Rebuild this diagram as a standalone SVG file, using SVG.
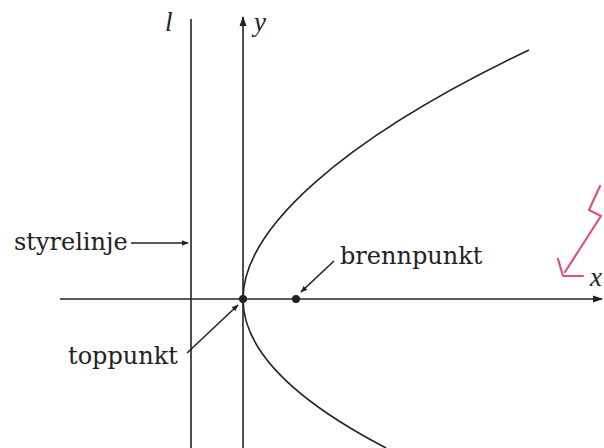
<svg xmlns="http://www.w3.org/2000/svg" width="604" height="448" viewBox="0 0 604 448">
<style>
.ln{stroke:#222;stroke-width:1.6;fill:none}
.lbl{font-family:"DejaVu Serif",serif;font-size:24px;fill:#222}
.var{font-family:"Liberation Serif",serif;font-style:italic;font-size:27px;fill:#222}
</style>
<defs>
<marker id="ah" viewBox="0 0 10 10" refX="9" refY="5" markerWidth="7" markerHeight="7" orient="auto" markerUnits="userSpaceOnUse">
<path d="M0,1 L10,5 L0,9 Z" fill="#222"/>
</marker>
<marker id="axh" viewBox="0 0 10 10" refX="9" refY="5" markerWidth="10" markerHeight="10" orient="auto" markerUnits="userSpaceOnUse">
<path d="M0,1.5 L10,5 L0,8.5 Z" fill="#222"/>
</marker>
</defs>
<rect width="604" height="448" fill="#fff"/>
<g id="axes">
<line class="ln" x1="60" y1="299" x2="602" y2="299" marker-end="url(#axh)"/>
<line class="ln" x1="243" y1="448" x2="243" y2="17" marker-end="url(#axh)"/>
<text class="var" x="254" y="31">y</text>
<text class="var" x="590" y="286">x</text>
</g>
<g id="directrix">
<line class="ln" x1="191" y1="19" x2="191" y2="448"/>
<text class="var" x="165" y="31">l</text>
</g>
<g id="parabola">
<path class="ln" d="M243,299 C243,230 340,140 529,50"/>
<path class="ln" d="M243,299 Q243,373.5 386,448"/>
</g>
<g id="vertex">
<circle cx="243" cy="299" r="4" fill="#222"/>
</g>
<g id="focus">
<circle cx="296" cy="299" r="4" fill="#222"/>
</g>
<g id="connectors">
<line class="ln" x1="131" y1="243" x2="188" y2="243" marker-end="url(#ah)" stroke-width="1.3"/>
<line class="ln" x1="334" y1="261" x2="301" y2="292" marker-end="url(#ah)" stroke-width="1.3"/>
<line class="ln" x1="187" y1="353" x2="238" y2="305" marker-end="url(#ah)" stroke-width="1.3"/>
</g>
<g id="label-styrelinje"><text class="lbl" x="14" y="250">styrelinje</text></g>
<g id="label-brennpunkt"><text class="lbl" x="340" y="264">brennpunkt</text></g>
<g id="label-toppunkt"><text class="lbl" x="68" y="364">toppunkt</text></g>
<g id="annotation">
<path d="M600,186 L589,210 L601,216 L565,272 M558,259 L563,276 L583,276" fill="none" stroke="#e05080" stroke-width="2.2" stroke-linecap="round" stroke-linejoin="round"/>
</g>
</svg>
